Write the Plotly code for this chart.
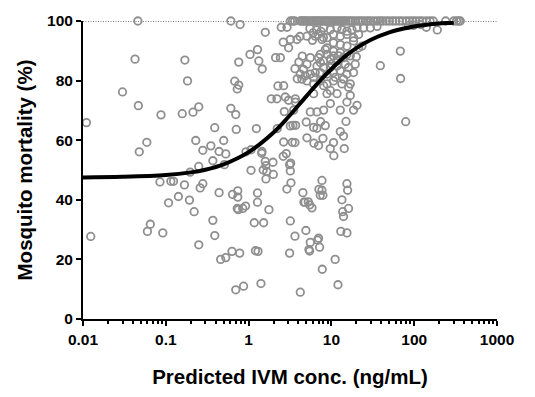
import plotly.graph_objects as go

# Scatter data: predicted IVM concentration (ng/mL) and mosquito mortality (%)
conc = [
    0.011, 0.0124, 0.030, 0.0425, 0.046, 0.0466, 0.0478, 0.059, 0.065, 0.060,
    0.0875, 0.085, 0.092, 0.108, 0.115, 0.124, 0.142, 0.158, 0.168, 0.17,
    0.183, 0.193, 0.197, 0.213, 0.22, 0.23, 0.25, 0.25, 0.25, 0.26,
    0.28, 0.28, 0.35, 0.37, 0.37, 0.39, 0.39, 0.44, 0.44, 0.46,
    0.50, 0.53, 0.51, 0.53, 0.61, 0.61, 0.63, 0.64, 0.68, 0.70,
    0.71, 0.70, 0.74, 0.74, 0.73, 0.76, 0.73, 0.75, 0.76, 0.78,
    0.79, 0.85, 0.87, 0.92, 0.93,
    1.04, 1.07, 1.07, 1.17, 1.21, 1.28, 1.30, 1.28, 1.28, 1.24,
    1.33, 1.41, 1.45, 1.46, 1.44, 1.50, 1.52, 1.59, 1.59, 1.62,
    1.62, 1.66, 1.76, 1.88, 1.97, 1.99, 2.12, 2.20, 2.26, 2.22,
    2.65, 2.62, 2.85, 2.90, 3.13, 3.13, 3.19, 3.25, 3.19, 3.22,
    3.19, 3.37, 3.43, 3.63, 3.63, 3.70, 4.21, 4.53, 4.66, 4.80,
    4.92, 4.97, 5.07, 5.26, 5.46, 5.46, 5.35, 5.56, 5.82, 6.10,
    6.15, 6.69, 6.81, 7.00, 7.00, 7.07, 7.20, 7.34, 7.41, 7.69,
    7.69, 7.76, 7.90, 7.90, 8.43, 9.69, 10.6, 10.7, 11.1, 12.8,
    12.0, 13.0, 13.4, 13.7, 14.0, 14.0, 14.3, 15.0, 15.4, 15.4,
    15.7, 16.1,
    2.91, 8.06, 9.71, 11.7, 13.4, 15.4, 17.7, 20.4, 24.5, 29.5,
    35.6, 3.19, 3.84, 3.04, 5.07, 6.39, 7.70, 8.85, 10.6, 12.8,
    15.4, 18.5, 21.3, 10.6, 12.8, 15.4, 18.5, 8.85, 10.6, 7.35,
    8.85, 10.6, 12.8, 15.4, 8.06, 9.71, 11.7, 14.0, 16.9, 6.70,
    8.06, 9.71, 11.7, 5.56, 5.07, 4.61, 4.21, 4.84, 5.56, 6.39,
    7.35, 8.85, 10.6, 12.8, 15.4, 18.5, 4.41, 5.07, 6.10, 7.35,
    8.06, 8.85, 10.6, 14.0, 16.9, 2.42, 2.65, 2.77, 3.04, 3.67,
    3.67, 6.10, 8.85, 9.71, 11.7, 16.1, 16.9, 15.4, 20.4, 9.71,
    8.06, 6.70, 5.56, 12.8, 18.5, 3.50, 20.0,
    7.0, 8.45, 10.1, 12.2, 14.7, 7.35, 6.10, 11.1, 13.4, 16.1,
    19.4, 21.3, 23.4,
    2.62, 2.48, 2.70, 3.63, 3.87, 4.05, 4.17, 4.45,
    5.5, 6.0, 6.6, 5.9, 6.9, 7.5, 8.0,
    39, 68, 68.5, 79, 85, 98, 120, 140, 190,
]
mortality = [
    65.9, 27.7, 76.2, 87.2, 100, 71.6, 56.1, 59.3, 31.8, 29.4,
    68.5, 46.0, 28.9, 39.0, 46.2, 46.2, 41.1, 68.9, 45.0, 86.9,
    79.9, 39.9, 49.3, 69.4, 36.0, 59.9, 71.2, 51.2, 24.9, 44.0,
    56.6, 45.4, 58.1, 53.1, 33.1, 64.2, 28.0, 56.2, 42.4, 20.0,
    59.9, 55.4, 51.8, 20.6, 70.7, 100, 22.7, 41.8, 79.8, 68.6,
    63.6, 9.8, 43.0, 40.9, 77.2, 78.5, 37.1, 36.7, 86.2, 22.1,
    98.8, 37.1, 11.0, 37.9, 56.1,
    88.8, 49.9, 56.8, 32.3, 22.9, 90.4, 22.7, 42.3, 39.2, 63.9,
    86.6, 11.9, 56.2, 83.9, 55.6, 50.0, 32.3, 96.2, 52.9, 51.5,
    47.0, 49.5, 36.7, 73.9, 52.6, 48.5, 87.7, 73.9, 78.2, 63.9,
    59.4, 54.6, 55.5, 43.6, 51.8, 22.1, 32.9, 45.7, 49.7, 52.3,
    64.8, 59.3, 65.0, 27.8, 59.2, 65.0, 9.0, 42.4, 39.2, 39.2,
    29.7, 66.1, 60.8, 39.3, 38.3, 22.8, 23.3, 25.7, 37.3, 64.3,
    59.0, 64.0, 26.5, 27.1, 58.2, 43.5, 24.1, 41.5, 66.2, 46.5,
    43.2, 16.7, 60.6, 41.5, 64.9, 57.2, 59.2, 54.8, 20.0, 62.9,
    11.5, 29.4, 40.0, 36.0, 61.4, 34.4, 57.2, 66.3, 28.9, 45.4,
    43.2, 37.1,
    97.9, 97.7, 97.1, 97.7, 97.1, 96.6, 97.1, 97.7, 97.7, 97.7,
    98.2, 93.8, 93.8, 91.0, 94.9, 94.9, 93.8, 94.4, 95.5, 94.9,
    95.5, 94.4, 95.5, 92.7, 92.1, 91.6, 93.3, 91.0, 89.9, 88.8,
    88.8, 88.3, 89.4, 88.8, 86.6, 87.2, 86.6, 87.7, 88.3, 84.9,
    84.4, 84.4, 84.9, 87.7, 85.5, 83.8, 82.2, 81.6, 82.2, 82.7,
    82.7, 82.2, 82.7, 83.3, 82.2, 82.7, 80.5, 79.9, 78.9, 79.9,
    78.3, 78.9, 79.9, 80.5, 78.9, 87.7, 78.3, 74.5, 73.4, 73.9,
    72.8, 75.6, 75.6, 76.7, 75.6, 77.8, 75.0, 72.8, 71.7, 72.3,
    70.1, 69.5, 69.5, 70.1, 70.1, 70.1, 88.0,
    87.7, 90.4, 85.5, 88.3, 85.5, 86.1, 81.1, 81.1, 78.9, 84.4,
    85.5, 91.0, 91.6,
    92.9, 97.9, 69.6, 84.0, 80.6, 86.2, 94.8, 88.2,
    97.5, 96.0, 97.0, 93.5, 95.5, 96.5, 94.5,
    85.0, 89.9, 80.7, 66.2, 98.5, 98.5, 98.8, 97.9, 97.0,
]

# Samples with 100 % mortality (concentrations read along the top)
conc_full = [
    3.2, 3.4, 3.6, 4.2, 4.4, 4.6, 4.8, 5.0, 5.3, 5.6, 5.9, 6.2, 6.5, 6.8,
    7.1, 7.5, 7.9, 8.3, 8.7, 9.2, 9.7, 10.2, 10.8, 11.4, 12, 12.7, 13.4,
    14.2, 15, 16, 17, 18, 19.5, 21, 22.5, 24, 26, 28, 30, 33, 36, 39, 42,
    46, 50, 55, 60, 66, 72, 80, 88, 96, 105, 115, 125, 140, 155, 170,
    240, 300, 325, 345, 360,
]
mortality_full = [100] * len(conc_full)

# Fitted sigmoid curve
curve_conc = [0.01, 0.03, 0.1, 0.2, 0.3, 0.5, 1, 2, 3, 5, 7.3, 10, 15.5, 20,
              30, 50, 89, 150, 250, 300]
curve_mort = [47.5, 47.7, 48.3, 49.2, 50.1, 51.9, 56.0, 62.6, 67.7, 74.8, 80.0,
              83.9, 88.7, 90.9, 93.7, 96.2, 97.9, 98.8, 99.3, 99.4]

x_tick_vals = [0.01, 0.1, 1, 10, 100, 1000]
x_tick_text = ["0.01", "0.1", "1", "10", "100", "1000"]
y_tick_vals = [0, 20, 40, 60, 80, 100]
y_tick_text = ["0", "20", "40", "60", "80", "100"]

grey = "#8f8f8f"
font_family = "Liberation Sans, Arial, sans-serif"

fig = go.Figure()
fig.add_trace(go.Scatter(
    x=[0.01, 1000], y=[100, 100], mode="lines",
    line=dict(color="black", width=1.2, dash="1px,1.5px"),
    hoverinfo="skip", cliponaxis=False,
))
fig.add_trace(go.Scatter(
    x=conc + conc_full, y=mortality + mortality_full, mode="markers",
    marker=dict(symbol="circle-open", size=7.5, color=grey,
                line=dict(width=1.8, color=grey)),
    cliponaxis=False,
))
fig.add_trace(go.Scatter(
    x=curve_conc, y=curve_mort, mode="lines",
    line=dict(color="black", width=4, shape="spline"),
    cliponaxis=False,
))

fig.update_layout(
    width=535, height=397,
    margin=dict(l=83, r=38, t=20, b=75),
    plot_bgcolor="white", paper_bgcolor="white",
    showlegend=False,
    font=dict(family=font_family, color="black"),
    xaxis=dict(
        type="log", range=[-2, 3],
        tickvals=x_tick_vals, ticktext=["<b>%s</b>" % t for t in x_tick_text],
        ticks="outside", ticklen=5, tickwidth=2, tickcolor="black",
        showline=True, linecolor="black", linewidth=2,
        showgrid=False, zeroline=False,
        minor=dict(ticks="outside", ticklen=3, tickwidth=1.5,
                   tickcolor="black", showgrid=False, dtick="D1"),
        tickfont=dict(size=15.5, family=font_family),
        title=dict(text="<b>Predicted IVM conc. (ng/mL)</b>", standoff=23,
                   font=dict(size=20.5, family=font_family)),
    ),
    yaxis=dict(
        range=[0, 100],
        tickvals=y_tick_vals, ticktext=["<b>%s</b>" % t for t in y_tick_text],
        ticks="outside", ticklen=5, tickwidth=2, tickcolor="black",
        showline=True, linecolor="black", linewidth=2,
        showgrid=False, zeroline=False,
        tickfont=dict(size=15.5, family=font_family),
        title=dict(text="<b>Mosquito mortality (%)</b>", standoff=9,
                   font=dict(size=20.5, family=font_family)),
    ),
)

fig.write_html("out.html")
